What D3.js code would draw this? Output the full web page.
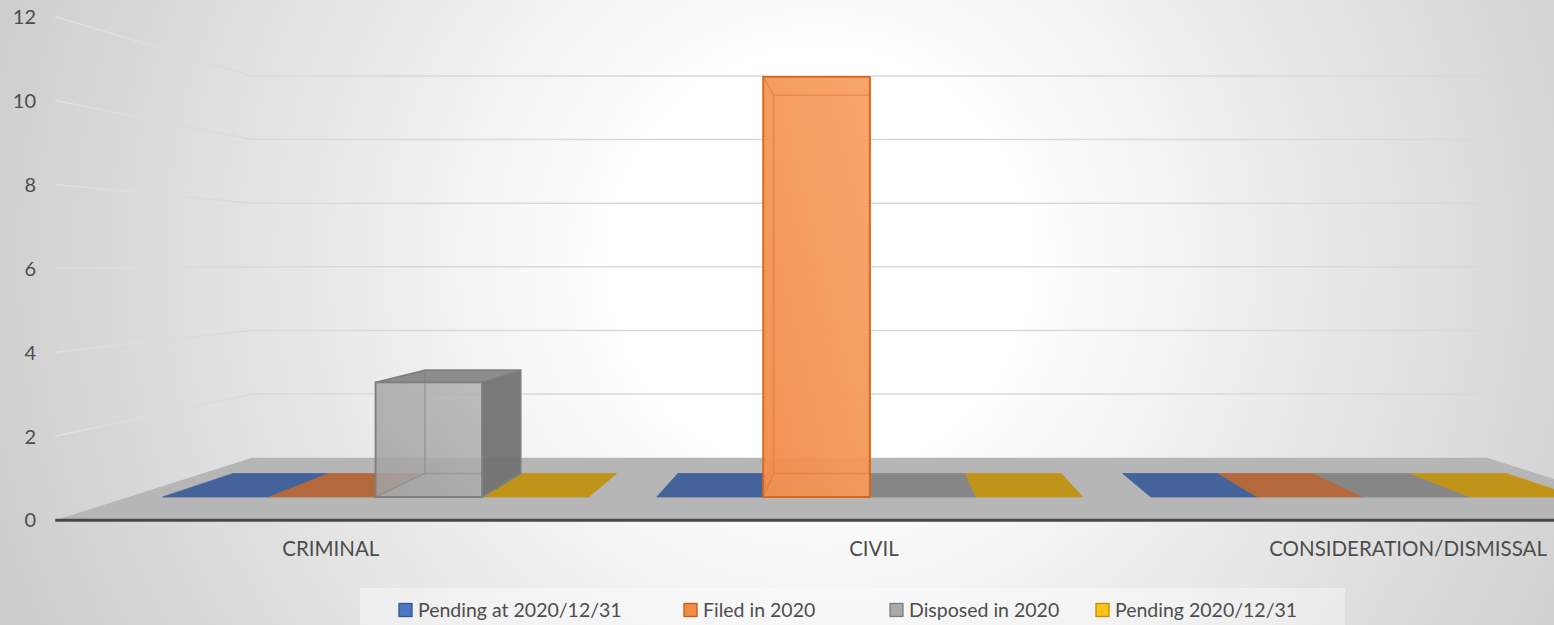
<!DOCTYPE html>
<html>
<head>
<meta charset="utf-8">
<script src="https://cdn.jsdelivr.net/npm/d3@7"></script>
<style>
  body { margin: 0; overflow: hidden; background: #fff; }
  text { font-family: Lato, "Open Sans", sans-serif; }
</style>
</head>
<body>
<div id="chart"></div>
<script>
// Case statistics, 3D clustered column chart (Excel style)

const categories = ["CRIMINAL", "CIVIL", "CONSIDERATION/DISMISSAL"];
const seriesNames = ["Pending at 2020/12/31", "Filed in 2020", "Disposed in 2020", "Pending 2020/12/31"];
const pendingStart = [0, 0, 0];
const filedIn2020 = [0, 11, 0];
const disposedIn2020 = [3, 0, 0];
const pendingEnd = [0, 0, 0];
const yTicks = [0, 2, 4, 6, 8, 10, 12];

const seriesValues = [pendingStart, filedIn2020, disposedIn2020, pendingEnd];
const baseColors = ["#4472c4", "#f7924c", "#a5a5a5", "#ffc000"];
const flatColors = ["#45639b", "#b4693d", "#878787", "#c09419"];
const edgeColors = ["#2f5597", "#d8661d", "#7f7f7f", "#bf9000"];
const legendFill = ["#4d76c4", "#f08c47", "#aaaaaa", "#ffc21a"];
const legendStroke = ["#2f5597", "#c55a11", "#7f7f7f", "#bf9000"];
const legendX = [399, 684, 890, 1096];

const width = 1554, height = 625;

// perspective: vanishing point + relative plane scales (bar front plane = 1)
const VX = 868, VY = 262;
const planes = { axis: 1.099, barFront: 1, barBack: 0.9, wall: 0.833 };
const project = (x, y, s) => [VX + s * (x - VX), VY + s * (y - VY)];

// scales live in the bar-front plane
const x0 = d3.scaleBand().domain(categories).range([128.5, 1611]);
const groupWidth = 426;
const x1 = d3.scaleBand().domain(seriesNames).range([0, groupWidth]);
const groupOffset = (x0.bandwidth() - groupWidth) / 2;
const y = d3.scaleLinear().domain([0, 12]).range([497, 497 - 38.2 * 12]);

const svg = d3.select("#chart").append("svg")
    .attr("width", width)
    .attr("height", height);

const defs = svg.append("defs");
const bg = defs.append("radialGradient")
    .attr("id", "bg")
    .attr("gradientUnits", "userSpaceOnUse")
    .attr("cx", 820).attr("cy", 260).attr("r", 1000);
bg.append("stop").attr("offset", 0).attr("stop-color", "#ffffff");
bg.append("stop").attr("offset", 0.2).attr("stop-color", "#ffffff");
bg.append("stop").attr("offset", 1).attr("stop-color", "#c3c3c3");

const sideGrid = defs.append("linearGradient")
    .attr("id", "sideGrid")
    .attr("gradientUnits", "userSpaceOnUse")
    .attr("x1", 55).attr("x2", 252).attr("y1", 0).attr("y2", 0);
sideGrid.append("stop").attr("offset", 0).attr("stop-color", "#e0e0e0");
sideGrid.append("stop").attr("offset", 1).attr("stop-color", "#d9d9d9");

baseColors.forEach((c, i) => {
    const g = defs.append("linearGradient")
        .attr("id", `front-${i}`)
        .attr("x1", 0).attr("y1", 1).attr("x2", 1).attr("y2", 0);
    g.append("stop").attr("offset", 0).attr("stop-color", d3.interpolateRgb(c, "#000")(0.03));
    g.append("stop").attr("offset", 1).attr("stop-color", d3.interpolateRgb(c, "#fff")(0.15));
});

svg.append("rect")
    .attr("width", width)
    .attr("height", height)
    .attr("fill", "url(#bg)");

const xLeft = x0.range()[0], xRight = x0.range()[1];
const line = d3.line();

// gridlines: back wall and left side wall
const grid = svg.append("g");
yTicks.filter(t => t > 0).forEach(t => {
    grid.append("path")
        .attr("d", line([project(xLeft, y(t), planes.wall), project(xRight, y(t), planes.wall)]))
        .attr("stroke", "#d9d9d9")
        .attr("stroke-width", 1.5)
        .attr("fill", "none");
    grid.append("path")
        .attr("d", line([project(xLeft, y(t), planes.axis), project(xLeft, y(t), planes.wall)]))
        .attr("stroke", "url(#sideGrid)")
        .attr("stroke-width", 1.5)
        .attr("fill", "none");
});

// floor
svg.append("path")
    .attr("d", line([
        project(xLeft, y(0), planes.axis),
        project(xRight, y(0), planes.axis),
        project(xRight, y(0), planes.wall),
        project(xLeft, y(0), planes.wall)
    ]) + "Z")
    .attr("fill", "#b6b6b6");

svg.append("path")
    .attr("d", line([project(xLeft, y(0), planes.axis), project(xRight, y(0), planes.axis)]))
    .attr("stroke", "#474747")
    .attr("stroke-width", 3)
    .attr("fill", "none");

// bars
const bars = [];
categories.forEach((cat, ci) => {
    seriesNames.forEach((s, si) => {
        const xa = x0(cat) + groupOffset + x1(s);
        bars.push({ cat, series: s, si, value: seriesValues[si][ci], xa, xb: xa + x1.bandwidth() });
    });
});

const face = pts => line(pts) + "Z";
const F = planes.barFront, B = planes.barBack;

const flatLayer = svg.append("g");
bars.filter(d => d.value === 0).forEach(d => {
    flatLayer.append("path")
        .attr("d", face([
            project(d.xa, y(0), F), project(d.xb, y(0), F),
            project(d.xb, y(0), B), project(d.xa, y(0), B)
        ]))
        .attr("fill", flatColors[d.si])
        .attr("stroke", flatColors[d.si])
        .attr("stroke-width", 0.8);
});

const boxLayer = svg.append("g");
bars.filter(d => d.value > 0).forEach(d => {
    const base = d3.color(baseColors[d.si]);
    const edge = edgeColors[d.si];
    const g = boxLayer.append("g");
    const y0 = y(0), yv = y(d.value);
    const topSeen = yv > VY;   // top face only visible from above
    // back
    g.append("path")
        .attr("d", face([project(d.xa, y0, B), project(d.xb, y0, B), project(d.xb, yv, B), project(d.xa, yv, B)]))
        .attr("fill", base.formatHex()).attr("fill-opacity", 0.2)
        .attr("stroke", edge).attr("stroke-opacity", 0.5).attr("stroke-width", 1.5);
    // left side
    g.append("path")
        .attr("d", face([project(d.xa, y0, F), project(d.xa, y0, B), project(d.xa, yv, B), project(d.xa, yv, F)]))
        .attr("fill", base.formatHex()).attr("fill-opacity", 0.3)
        .attr("stroke", edge).attr("stroke-opacity", 0.5).attr("stroke-width", 1.5);
    // right side
    g.append("path")
        .attr("d", face([project(d.xb, y0, F), project(d.xb, y0, B), project(d.xb, yv, B), project(d.xb, yv, F)]))
        .attr("fill", base.darker(1).formatHex()).attr("fill-opacity", 0.95)
        .attr("stroke", edge).attr("stroke-width", 1.5);
    // top
    g.append("path")
        .attr("d", face([project(d.xa, yv, F), project(d.xb, yv, F), project(d.xb, yv, B), project(d.xa, yv, B)]))
        .attr("fill", topSeen ? base.darker(0.55).formatHex() : base.brighter(0.2).formatHex())
        .attr("fill-opacity", topSeen ? 0.95 : 0.3)
        .attr("stroke", edge).attr("stroke-opacity", topSeen ? 1 : 0.5).attr("stroke-width", 1.5);
    // front
    g.append("path")
        .attr("d", face([project(d.xa, y0, F), project(d.xb, y0, F), project(d.xb, yv, F), project(d.xa, yv, F)]))
        .attr("fill", `url(#front-${d.si})`).attr("fill-opacity", d.si === 1 ? 0.94 : 0.8)
        .attr("stroke", edge).attr("stroke-width", 1.8);
    // hidden back edges, faintly seen through the front face
    g.append("path")
        .attr("d", line([project(d.xa, y0, F), project(d.xa, y0, B), project(d.xa, yv, B), project(d.xa, yv, F)])
            + "M" + project(d.xa, y0, B) + "L" + project(d.xb, y0, B)
            + "M" + project(d.xa, yv, B) + "L" + project(d.xb, yv, B))
        .attr("fill", "none")
        .attr("stroke", edge).attr("stroke-opacity", 0.3).attr("stroke-width", 1.5);
});

// y axis labels (on the front edge of the side wall)
svg.append("g").selectAll("text")
    .data(yTicks)
    .join("text")
    .attr("x", 36)
    .attr("y", t => project(xLeft, y(t), planes.axis)[1])
    .attr("dy", "0.36em")
    .attr("text-anchor", "end")
    .attr("font-size", 20)
    .attr("fill", "#4d4d4d")
    .text(t => t);

// category labels, kept inside the right edge like Excel does
svg.append("g").selectAll("text")
    .data(categories)
    .join("text")
    .attr("y", 549)
    .attr("dy", "0.36em")
    .attr("text-anchor", "middle")
    .attr("font-size", 20.5)
    .attr("fill", "#4d4d4d")
    .text(c => c)
    .attr("x", function (c) {
        const cx = project(x0(c) + x0.bandwidth() / 2, y(0), planes.axis)[0] + 4;
        const half = this.getComputedTextLength() / 2;
        return Math.min(cx, width - 7 - half);
    });

// legend
svg.append("rect")
    .attr("x", 360).attr("y", 588)
    .attr("width", 985).attr("height", 40)
    .attr("fill", "#ffffff").attr("fill-opacity", 0.4);

const items = svg.append("g").selectAll("g")
    .data(seriesNames)
    .join("g")
    .attr("transform", (d, i) => `translate(${legendX[i]},610)`);
items.append("rect")
    .attr("width", 13).attr("height", 13)
    .attr("y", -6.5)
    .attr("fill", (d, i) => legendFill[i])
    .attr("stroke", (d, i) => legendStroke[i])
    .attr("stroke-width", 1.3);
items.append("text")
    .attr("x", 19)
    .attr("dy", "0.36em")
    .attr("font-size", 19.5)
    .attr("fill", "#4d4d4d")
    .text(d => d);
</script>
</body>
</html>
